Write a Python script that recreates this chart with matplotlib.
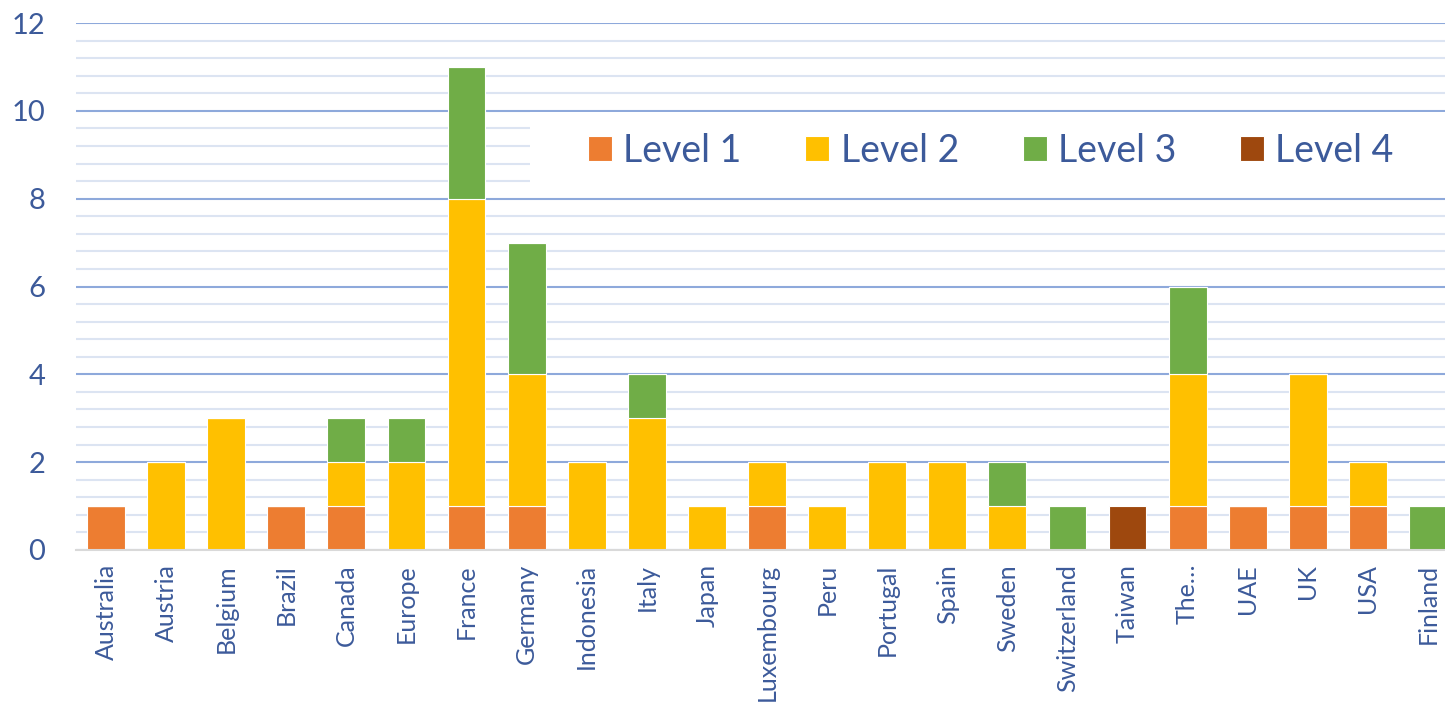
import matplotlib.pyplot as plt
from matplotlib.patches import Rectangle
import numpy as np

countries = ["Australia", "Austria", "Belgium", "Brazil", "Canada", "Europe", "France",
             "Germany", "Indonesia", "Italy", "Japan", "Luxembourg", "Peru", "Portugal",
             "Spain", "Sweden", "Switzerland", "Taiwan", "The…", "UAE", "UK", "USA", "Finland"]
level1 = [1, 0, 0, 1, 1, 0, 1, 1, 0, 0, 0, 1, 0, 0, 0, 0, 0, 0, 1, 1, 1, 1, 0]
level2 = [0, 2, 3, 0, 1, 2, 7, 3, 2, 3, 1, 1, 1, 2, 2, 1, 0, 0, 3, 0, 3, 1, 0]
level3 = [0, 0, 0, 0, 1, 1, 3, 3, 0, 1, 0, 0, 0, 0, 0, 1, 1, 0, 2, 0, 0, 0, 1]
level4 = [0, 0, 0, 0, 0, 0, 0, 0, 0, 0, 0, 0, 0, 0, 0, 0, 0, 1, 0, 0, 0, 0, 0]

series = [level1, level2, level3, level4]
names = ["Level 1", "Level 2", "Level 3", "Level 4"]
colors = ["#ED7D31", "#FFC000", "#70AD47", "#9E480E"]
txt = "#3C5A9A"

plt.rcParams['font.family'] = ['Lato', 'DejaVu Sans']

fig = plt.figure(figsize=(14.45, 7.08), dpi=100)
# plot area runs a little past the right edge of the picture
ax = fig.add_axes([76 / 1445, 1 - 550 / 708, 1382 / 1445, 527 / 708])

x = np.arange(len(countries))
bottom = np.zeros(len(countries))
for vals, name, c in zip(series, names, colors):
    ax.bar(x, vals, bottom=bottom, width=0.63, color=c, label=name,
           edgecolor="white", linewidth=0.8, zorder=3)
    bottom += np.array(vals)

ax.set_xlim(-0.5, len(countries) - 0.5)
ax.set_ylim(0, 12)
ax.set_yticks(np.arange(0, 13, 2))
ax.set_yticks(np.arange(0, 12.01, 0.4), minor=True)
ax.grid(axis="y", which="major", color="#8EA9DB", linewidth=1.5, zorder=0)
ax.grid(axis="y", which="minor", color="#DCE4F2", linewidth=1.5, zorder=0)
ax.tick_params(axis="y", which="both", length=0, labelsize=21, labelcolor=txt, pad=22)
ax.set_xticks(x)
ax.set_xticklabels(countries, rotation=90, fontsize=18, color=txt)
ax.tick_params(axis="x", length=0, pad=10)
for s in ["top", "right", "left"]:
    ax.spines[s].set_visible(False)
ax.spines["bottom"].set_color("#D9D9D9")
ax.spines["bottom"].set_linewidth(1.5)
ax.spines["bottom"].set_zorder(4)

# white box behind the legend, between the 8 and 10 gridlines
ax.add_patch(Rectangle((454 / 1382, 353 / 527), 915 / 1382, 85 / 527,
                       transform=ax.transAxes, facecolor="white", edgecolor="none",
                       zorder=4, clip_on=False))

leg = ax.legend(loc="center", bbox_to_anchor=(0.662, 0.757), ncol=4,
                frameon=False, fontsize=27, handlelength=0.64, handleheight=0.64,
                handletextpad=0.3, columnspacing=1.7, borderaxespad=0)
for t in leg.get_texts():
    t.set_color(txt)
leg.set_zorder(5)

fig.savefig("out.png", dpi=100)
